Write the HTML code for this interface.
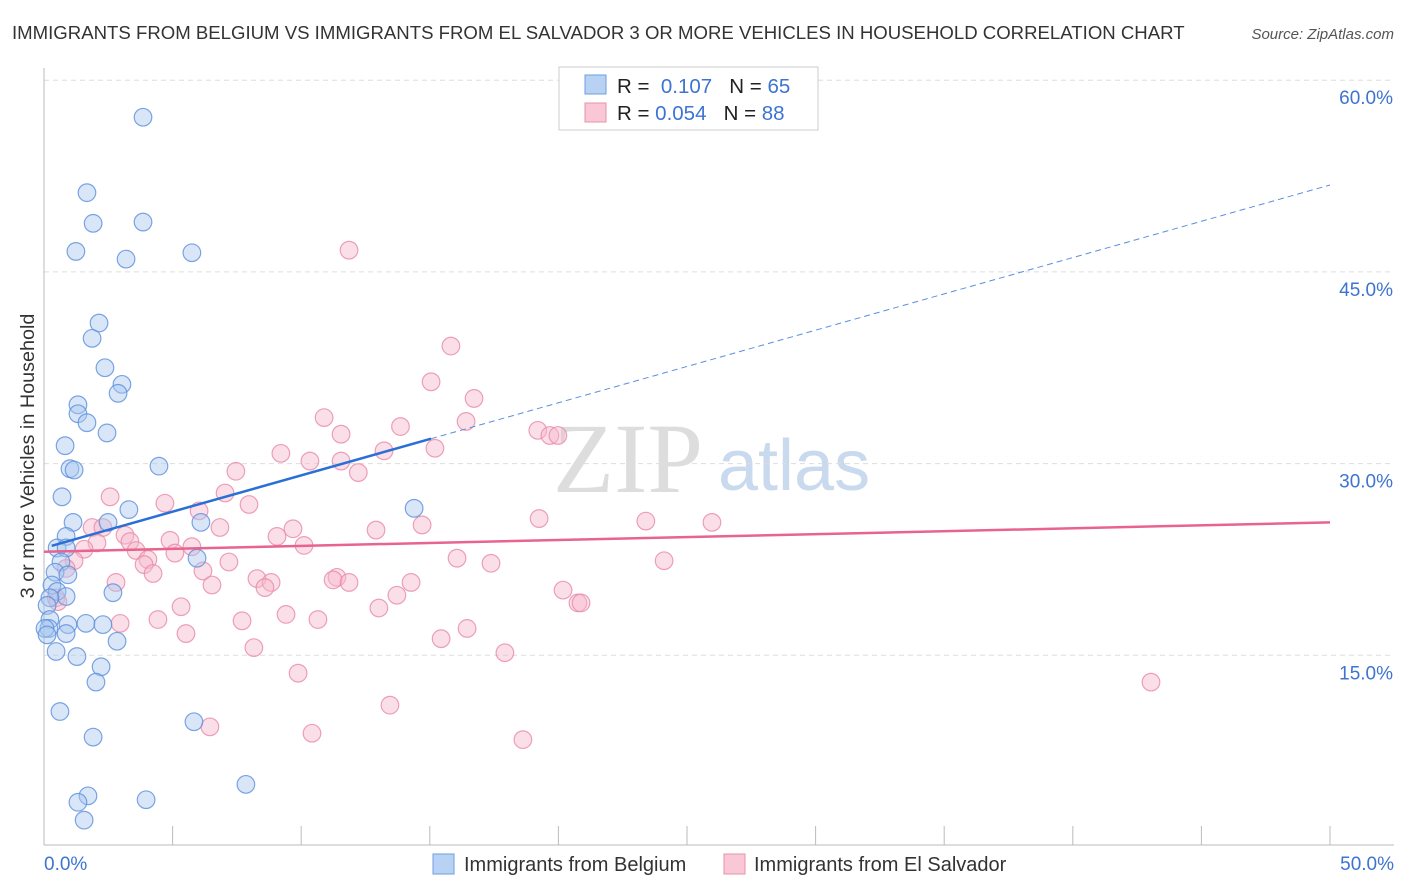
<!DOCTYPE html>
<html><head><meta charset="utf-8">
<style>
body{margin:0;background:#fff;font-family:"Liberation Sans",sans-serif;}
svg{display:block}
</style></head>
<body>
<svg id="chart" width="1406" height="892" xmlns="http://www.w3.org/2000/svg">
<text x="12" y="39" font-size="18.6" fill="#333">IMMIGRANTS FROM BELGIUM VS IMMIGRANTS FROM EL SALVADOR 3 OR MORE VEHICLES IN HOUSEHOLD CORRELATION CHART</text>
<text x="1394" y="39" font-size="15" fill="#555" font-style="italic" text-anchor="end">Source: ZipAtlas.com</text>
<text x="553" y="492" font-size="100" fill="#ddd" font-family="Liberation Serif, serif">ZIP</text>
<text x="718" y="490" font-size="72" fill="#c9d9ee">atlas</text>
<g id="grid"></g>
<g id="axes"></g>
<g id="pts"></g>
<g id="trend"></g>
<text transform="translate(34,456) rotate(-90)" font-size="19.8" fill="#333" text-anchor="middle">3 or more Vehicles in Household</text>
<g>
<rect x="559" y="67" width="259" height="63" fill="#fff" stroke="#ccc"/>
<rect x="585" y="75" width="21" height="19" fill="#b8d2f3" stroke="#6c9de0"/>
<rect x="585" y="103" width="21" height="19" fill="#f9c7d6" stroke="#e890ab"/>
<text x="617" y="93" font-size="20.5" fill="#222">R = <tspan fill="#3d74d0">&#160;0.107</tspan>&#160;&#160;&#160;N = <tspan fill="#3d74d0">65</tspan></text>
<text x="617" y="120" font-size="20.5" fill="#222">R = <tspan fill="#3d74d0">0.054</tspan>&#160;&#160;&#160;N = <tspan fill="#3d74d0">88</tspan></text>
</g>
<g>
<rect x="433" y="854" width="21" height="20" fill="#b8d2f3" stroke="#6c9de0"/>
<text x="464" y="871" font-size="20" fill="#333">Immigrants from Belgium</text>
<rect x="724" y="854" width="21" height="20" fill="#f9c7d6" stroke="#e890ab"/>
<text x="754" y="871" font-size="20" fill="#333">Immigrants from El Salvador</text>
</g>
</svg>
<script>
const yTicks=[15,30,45,60];
const xTickLabels=["0.0%","50.0%"];
const belgiumX=[3.85,1.67,1.91,3.85,1.24,3.19,5.75,2.14,1.87,2.37,3.03,2.88,1.32,1.32,1.67,2.45,0.82,1.01,1.17,4.47,0.70,3.30,14.39,1.13,2.49,6.10,0.86,0.51,0.86,0.66,5.95,0.43,0.93,0.31,0.51,0.86,2.68,0.23,0.12,0.23,0.93,1.63,2.29,0.19,0.86,2.84,0.47,1.28,2.22,2.02,0.62,5.83,1.91,7.85,1.71,1.32,3.97,1.56,0.04,0.12];
const belgiumY=[57.1,51.2,48.8,48.9,46.6,46.0,46.5,41.0,39.8,37.5,36.2,35.5,34.6,33.9,33.2,32.4,31.4,29.6,29.5,29.8,27.4,26.4,26.5,25.4,25.4,25.4,24.3,23.4,23.4,22.3,22.6,21.5,21.3,20.5,20.0,19.6,19.9,19.5,18.9,17.8,17.4,17.5,17.4,17.1,16.7,16.1,15.3,14.9,14.1,12.9,10.6,9.8,8.6,4.9,4.0,3.5,3.7,2.1,17.1,16.6];
const salvadorX=[11.86,15.82,15.05,16.72,10.89,13.86,16.41,11.55,19.20,19.67,19.98,15.20,13.22,9.21,10.34,11.55,12.22,7.46,7.04,2.57,4.70,7.97,6.03,19.25,23.40,25.97,6.84,14.70,12.91,9.68,1.87,2.29,9.06,3.15,4.90,3.34,5.75,10.11,2.06,1.56,3.58,5.09,4.04,16.06,24.11,7.19,1.17,3.89,17.38,6.18,4.24,0.86,8.28,11.39,11.24,2.80,8.83,11.86,14.27,6.53,8.59,20.18,13.72,0.47,20.76,20.88,5.33,13.02,9.41,4.43,10.65,7.70,2.96,16.45,5.52,15.44,8.16,17.92,9.88,43.04,13.45,6.45,10.42,18.62,0.54];
const salvadorY=[46.7,39.2,36.4,35.1,33.6,32.9,33.3,32.3,32.6,32.2,32.2,31.2,31.0,30.8,30.2,30.2,29.3,29.4,27.7,27.4,26.9,26.8,26.3,25.7,25.5,25.4,25.0,25.2,24.8,24.9,25.0,25.0,24.3,24.4,24.0,23.9,23.5,23.6,23.8,23.3,23.2,23.0,22.5,22.6,22.4,22.3,22.4,22.1,22.2,21.6,21.4,21.8,21.0,21.1,20.9,20.7,20.7,20.7,20.7,20.5,20.3,20.1,19.7,19.5,19.1,19.1,18.8,18.7,18.2,17.8,17.8,17.7,17.5,17.1,16.7,16.3,15.6,15.2,13.6,12.9,11.1,9.4,8.9,8.4,19.2];
const belgiumTrend=[23.4,51.8];
const belgiumSolidEnd=[15.05];
const salvadorTrend=[23.1,25.4];

const NS="http://www.w3.org/2000/svg";
const X0=44,X1=1330,Y0=847,PXPER=191.7/15;
const sx=v=>X0+(X1-X0)*v/50;
const sy=v=>Y0-v*PXPER;
function mk(tag,attrs,parent){const e=document.createElementNS(NS,tag);for(const k in attrs)e.setAttribute(k,attrs[k]);parent.appendChild(e);return e;}
const grid=document.getElementById('grid'),axes=document.getElementById('axes'),pts=document.getElementById('pts'),tr=document.getElementById('trend');
yTicks.forEach(t=>{
  const l=mk('line',{x1:X0,x2:1394,y1:sy(t),y2:sy(t),stroke:'#ddd','stroke-dasharray':'5,4'},grid);
  
  
  const tx=mk('text',{x:1393,y:sy(t)+24,'font-size':19,fill:'#3d74d0','text-anchor':'end'},grid);
  tx.textContent=t.toFixed(1)+'%';
  
  
});
const ax=mk('line',{x1:X0,x2:X0,y1:68,y2:845,stroke:'#bbb'},axes);


const bx=mk('line',{x1:X0,x2:1394,y1:845,y2:845,stroke:'#bbb'},axes);


for(let i=0;i<=10;i++){
  const t=mk('line',{x1:sx(i*5),x2:sx(i*5),y1:826,y2:845,stroke:'#bbb'},axes);
  
  
}
[[0,'start',44],[1,'end',1394]].forEach(([i,a,x])=>{
  const t=mk('text',{x:x,y:870,'font-size':19,fill:'#3d74d0','text-anchor':a},axes);
  t.textContent=xTickLabels[i];
  
  
});
function dots(xs,ys,fill,stroke,name){
  xs.forEach((x,i)=>{
    const c=mk('circle',{cx:sx(x),cy:sy(ys[i]),r:8.8,fill:fill,'fill-opacity':0.45,stroke:stroke,'stroke-width':1.2,'stroke-opacity':0.8},pts);
    
    
  });
}
dots(salvadorX,salvadorY,'#f6b9cc','#e88aa8','point-el-salvador');
dots(belgiumX,belgiumY,'#a9c8f0','#5b8fdc','point-belgium');
const bAt=x=>belgiumTrend[0]+(belgiumTrend[1]-belgiumTrend[0])*x/50;
const l1=mk('line',{x1:sx(0.3),y1:sy(bAt(0.3)),x2:sx(belgiumSolidEnd[0]),y2:sy(bAt(belgiumSolidEnd[0])),stroke:'#2a6fd6','stroke-width':2.5},tr);


const l2=mk('line',{x1:sx(belgiumSolidEnd[0]),y1:sy(bAt(belgiumSolidEnd[0])),x2:sx(50),y2:sy(bAt(50)),stroke:'#5b8fdc','stroke-width':1,'stroke-dasharray':'6,4'},tr);


const l3=mk('line',{x1:sx(0),y1:sy(salvadorTrend[0]),x2:sx(50),y2:sy(salvadorTrend[1]),stroke:'#e8638e','stroke-width':2.5},tr);


</script>
</body></html>
